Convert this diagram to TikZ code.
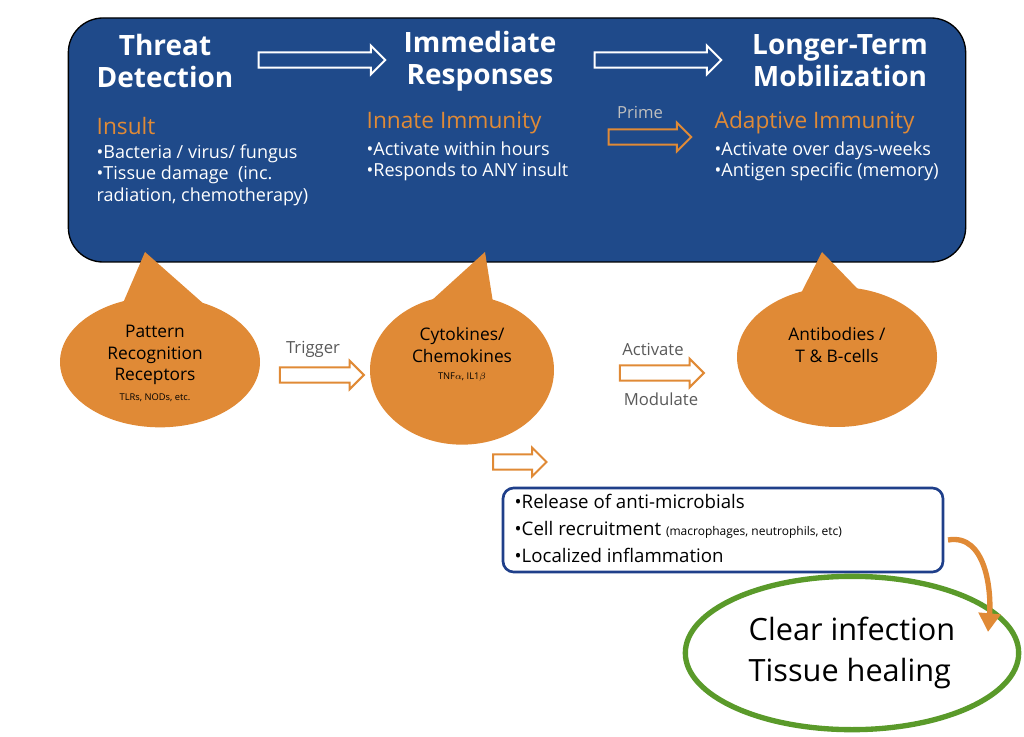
\documentclass[tikz,border=0pt]{standalone}
\usepackage{fontspec}
\setmainfont{Open Sans}
\usetikzlibrary{shapes.arrows,shapes.geometric,arrows.meta}
\definecolor{navy}{HTML}{1F4A8A}
\definecolor{org}{HTML}{E08A36}
\definecolor{grn}{HTML}{5A9A2A}
\definecolor{boxblue}{HTML}{1F3F8A}
\begin{document}
\begin{tikzpicture}[x=0.75pt,y=-0.75pt,
  title/.style={text=white,font=\fontsize{21}{24}\selectfont\bfseries,align=center},
  head/.style={text=org,font=\fontsize{17}{20}\selectfont,anchor=west},
  bul/.style={text=white,font=\fontsize{13.5}{16}\selectfont,anchor=north west,align=left},
  harrow/.style={single arrow,draw=#1,line width=1.5pt,fill=none,inner sep=0pt,inner ysep=5pt,single arrow head extend=5pt,minimum height=95pt},
  bubble/.style={ellipse,fill=org,inner sep=0pt},
  btxt/.style={font=\fontsize{13}{16}\selectfont,align=center,text=black},
  lbl/.style={font=\fontsize{12.5}{15}\selectfont,text=black!65}]
\useasboundingbox (0,0) rectangle (1024,737);
\node[draw=black,line width=1pt,fill=navy,rounded corners=26pt,minimum width=673pt,minimum height=183pt] (panel) at (517,140) {};
\node[title] (t1) at (165,61) {Threat\\Detection};
\node[title] (t2) at (480,61) {Immediate\\Responses};
\node[title] (t3) at (840,61) {Longer-Term\\Mobilization};
\node[harrow=white] (a1) at (318,60) {};
\node[harrow=white] (a2) at (654,60) {};
\node[head] (h1) at (92,126) {Insult};
\node[bul] (b1) at (92,140) {•Bacteria / virus/ fungus\\•Tissue damage\ \ (inc.\\radiation, chemotherapy)};
\node[head] (h2) at (362,123) {Innate Immunity};
\node[bul] (b2) at (362,137) {•Activate within hours\\•Responds to ANY insult};
\node[head] (h3) at (710,123) {Adaptive Immunity};
\node[bul] (b3) at (710,137) {•Activate over days-weeks\\•Antigen specific (memory)};
\node[font=\fontsize{12.5}{15}\selectfont,text=black!25] (prime) at (640,112) {Prime};
\node[harrow=org,minimum height=62pt] (pa) at (646,137) {};
% bubbles
\coordinate (tp1) at (145,252);\coordinate (tp2) at (485,252);\coordinate (tp3) at (822,252);
\fill[org] (120,310) -- (tp1) -- (205,305) -- cycle;
\fill[org] (410,320) -- (tp2) -- (495,315) -- cycle;
\fill[org] (795,305) -- (tp3) -- (880,312) -- cycle;
\node[bubble,minimum width=150pt,minimum height=98pt] (e1) at (160,362) {};
\node[bubble,minimum width=138pt,minimum height=112pt] (e2) at (462,370) {};
\node[bubble,minimum width=150pt,minimum height=105pt] (e3) at (837,357) {};
\node[btxt] at (155,355) {Pattern\\Recognition\\Receptors};
\node[font=\fontsize{7}{8}\selectfont] at (155,398) {TLRs, NODs, etc.};
\node[btxt] at (462,345) {Cytokines/\\Chemokines};
\node[font=\fontsize{7}{8}\selectfont] at (462,377) {TNF$\alpha$, IL1$\beta$};
\node[btxt] at (837,345) {Antibodies /\\T \& B-cells};
\node[harrow=org,minimum height=63pt] (tr) at (318,375) {};
\node[lbl,anchor=south] at (313,362) {Trigger};
\node[harrow=org,minimum height=63pt] (ac) at (658,373) {};
\node[lbl,anchor=south] at (653,360) {Activate};
\node[lbl] at (661,399) {Modulate};
\node[harrow=org,minimum height=40pt,shape border rotate=-42] (dn) at (516,462) {};
% box
\node[draw=boxblue,line width=2pt,rounded corners=8pt,minimum width=330pt,minimum height=63pt] (box) at (723,530) {};
\node[anchor=north west,align=left,font=\fontsize{14}{20}\selectfont] (bt) at (510,490) {•Release of anti-microbials\\•Cell recruitment {\fontsize{9}{10}\selectfont(macrophages, neutrophils, etc)}\\•Localized inflammation};
% outcome
\node[ellipse,draw=grn,line width=4pt,minimum width=250pt,minimum height=115pt] (out) at (852,653) {};
\node[align=left,font=\fontsize{23}{31}\selectfont] at (852,653) {Clear infection\\Tissue healing};
\coordinate (c1) at (948,540);\coordinate (c2) at (988,632);
\draw[org,line width=4pt,-{Triangle[length=14pt,width=16pt]}] (c1) to[out=10,in=85] (c2);
\end{tikzpicture}
\end{document}
